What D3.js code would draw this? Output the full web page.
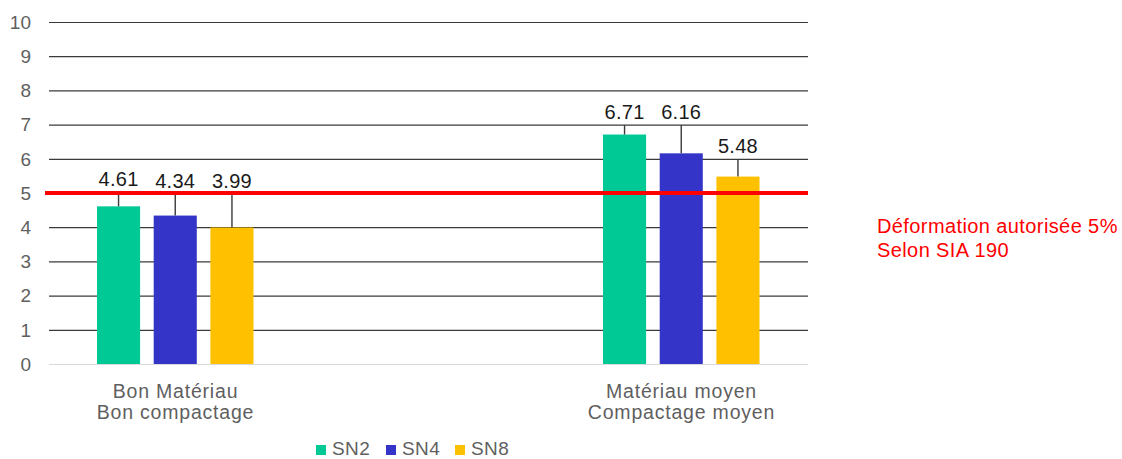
<!DOCTYPE html>
<html><head><meta charset="utf-8">
<script src="https://cdn.jsdelivr.net/npm/d3@7"></script>
<style>
body{margin:0;background:#fff;}
text{font-family:"Liberation Sans",Arial,sans-serif;}
</style></head>
<body><svg id="c" width="1122" height="459"></svg>
<script>
const categories = [["Bon Matériau","Bon compactage"],["Matériau moyen","Compactage moyen"]];
const categoryKeys = ["g1","g2"];
const seriesNames = ["SN2","SN4","SN8"];
const seriesColors = ["#00C995","#3434C8","#FFC000"];
const valuesSN2 = [4.61, 6.71];
const valuesSN4 = [4.34, 6.16];
const valuesSN8 = [3.99, 5.48];
const errTopSN2 = [5.03, 6.99];
const errTopSN4 = [4.98, 6.99];
const errTopSN8 = [4.98, 5.99];
const yTicks = [0,1,2,3,4,5,6,7,8,9,10];
const limitValue = 5;
const annotation = ["Déformation autorisée 5%","Selon SIA 190"];

const values = [valuesSN2, valuesSN4, valuesSN8];
const errTops = [errTopSN2, errTopSN4, errTopSN8];

const svg = d3.select("#c");
const y = d3.scaleLinear().domain([0,10]).range([364,22]);
const xLeft = 49, xRight = 808;
const x0 = d3.scalePoint().domain(categoryKeys).range([xLeft, xRight]).padding(0.25);
const x1 = d3.scaleBand().domain(seriesNames).range([-78.5, 78]).paddingInner(0.24);

// gridlines
svg.append("g").selectAll("line").data(yTicks).join("line")
  .attr("x1", xLeft).attr("x2", xRight)
  .attr("y1", d=>y(d)+0.5).attr("y2", d=>y(d)+0.5)
  .attr("stroke", d=> d===0 ? "#d9d9d9" : "#3a3a3a")
  .attr("stroke-width", 1.2);

// y axis labels
svg.append("g").selectAll("text").data(yTicks).join("text")
  .attr("x", 31).attr("y", d=>y(d)).attr("dy","0.36em")
  .attr("text-anchor","end").attr("font-size",19).attr("fill","#5f5f5f")
  .text(d=>d);

// bars
const bars = [];
categoryKeys.forEach((c,ci)=>seriesNames.forEach((s,si)=>{
  bars.push({c, s, si, v: values[si][ci], e: errTops[si][ci]});
}));
const gB = svg.append("g");
gB.selectAll("rect").data(bars).join("rect")
  .attr("x", d=>x0(d.c)+x1(d.s)).attr("width", x1.bandwidth())
  .attr("y", d=>y(d.v)).attr("height", d=>y(0)-y(d.v))
  .attr("fill", d=>seriesColors[d.si]);
// error bars (upper)
gB.selectAll("line").data(bars).join("line")
  .attr("x1", d=>x0(d.c)+x1(d.s)+x1.bandwidth()/2)
  .attr("x2", d=>x0(d.c)+x1(d.s)+x1.bandwidth()/2)
  .attr("y1", d=>y(d.v)).attr("y2", d=>y(d.e))
  .attr("stroke","#3a3a3a").attr("stroke-width",1.4);

// red limit line
svg.append("line").attr("x1",45).attr("x2",xRight)
  .attr("y1",y(limitValue)).attr("y2",y(limitValue))
  .attr("stroke","#ff0000").attr("stroke-width",4);

// value labels
gB.selectAll("text").data(bars).join("text")
  .attr("x", d=>x0(d.c)+x1(d.s)+x1.bandwidth()/2)
  .attr("y", d=>y(d.e)-6)
  .attr("text-anchor","middle").attr("font-size",20).attr("letter-spacing",0.3).attr("fill","#1a1a1a")
  .text(d=>d.v.toFixed(2));

// category labels
const gC = svg.append("g");
categoryKeys.forEach((c,ci)=>{
  const t = gC.append("text").attr("text-anchor","middle").attr("font-size",19.5)
    .attr("letter-spacing",0.8).attr("fill","#5f5f5f");
  categories[ci].forEach((line,li)=>{
    t.append("tspan").attr("x", x0(c)).attr("y", 398 + li*21).text(line);
  });
});

// legend
const legendX = [316, 386, 455];
const gL = svg.append("g");
seriesNames.forEach((s,i)=>{
  gL.append("rect").attr("x",legendX[i]).attr("y",445).attr("width",10).attr("height",10).attr("fill",seriesColors[i]);
  gL.append("text").attr("x",legendX[i]+16).attr("y",455).attr("font-size",19).attr("letter-spacing",0.4).attr("fill","#5f5f5f").text(s);
});

// annotation
const ta = svg.append("text").attr("font-size",20).attr("letter-spacing",0.4).attr("fill","#ff0000");
annotation.forEach((line,i)=>{
  ta.append("tspan").attr("x",877).attr("y",233+i*24).text(line);
});
</script></body></html>
